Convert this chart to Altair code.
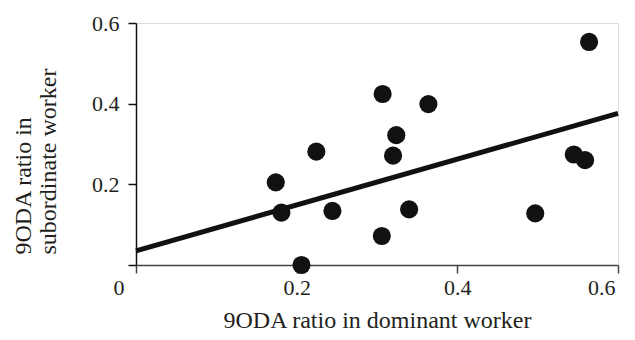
import altair as alt
import pandas as pd

# Data
dominant = [0.174, 0.181, 0.206, 0.2245, 0.307, 0.364, 0.324, 0.320,
            0.2445, 0.340, 0.306, 0.497, 0.545, 0.559, 0.564]
subordinate = [0.205, 0.130, 0.0, 0.281, 0.424, 0.399, 0.322, 0.271,
               0.134, 0.138, 0.072, 0.128, 0.274, 0.260, 0.553]

fit_x = [0.0, 0.6]
fit_y = [0.035, 0.376]

ticks = [0, 0.2, 0.4, 0.6]

pts = pd.DataFrame({"x": dominant, "y": subordinate})
fit = pd.DataFrame({"x": fit_x, "y": fit_y})

FONT = "Liberation Serif"
LFS = 22
TFS = 24
TXT = "#231f20"

xscale = alt.Scale(domain=[0, 0.6], nice=False, zero=True)
yscale = alt.Scale(domain=[0, 0.6], nice=False, zero=True)

xaxis = alt.Axis(
    values=ticks,
    title="9ODA ratio in dominant worker",
    labelExpr="datum.value == 0 ? '0' : format(datum.value, '.1f')",
    labelOffset={"condition": [{"test": "datum.value == 0", "value": -23},
                               {"test": "datum.value > 0.55", "value": -3}],
                 "value": 0},
    grid=False,
    domainColor="#444444",
    tickColor="#444444",
    tickSize=8,
    domainWidth=1.5,
    tickWidth=1.5,
    labelPadding=4,
    titleY=62,
    titleBaseline="alphabetic",
    labelFont=FONT, labelFontSize=LFS, labelColor=TXT,
    titleFont=FONT, titleFontSize=TFS, titleFontWeight="normal", titleColor=TXT,
)

yaxis = alt.Axis(
    values=ticks,
    title=["9ODA ratio in", "subordinate worker"],
    labelExpr="datum.value == 0 ? '' : format(datum.value, '.1f')",
    grid=False,
    domainColor="#111111",
    tickColor="#111111",
    tickSize=8,
    domainWidth=1.5,
    tickWidth=1.5,
    labelPadding=9,
    titleX=-101,
    titleY=231,
    titleAlign="left",
    titleLineHeight=25,
    labelFont=FONT, labelFontSize=LFS, labelColor=TXT,
    titleFont=FONT, titleFontSize=TFS, titleFontWeight="normal", titleColor=TXT,
)

points = alt.Chart(pts).mark_circle(size=330, color="#111111", opacity=1).encode(
    x=alt.X("x:Q", scale=xscale, axis=xaxis),
    y=alt.Y("y:Q", scale=yscale, axis=yaxis),
)

line = alt.Chart(fit).mark_line(color="#111111", strokeWidth=5).encode(
    x=alt.X("x:Q", scale=xscale),
    y=alt.Y("y:Q", scale=yscale),
)

chart = alt.layer(line, points).properties(
    width=482,
    height=242,
    autosize=alt.AutoSizeParams(type="none"),
    padding={"left": 128, "top": 15, "right": 9, "bottom": 67},
).configure_view(stroke=None).configure(background="white")

chart.save("out.html", embed_options={"renderer": "svg", "actions": False})
